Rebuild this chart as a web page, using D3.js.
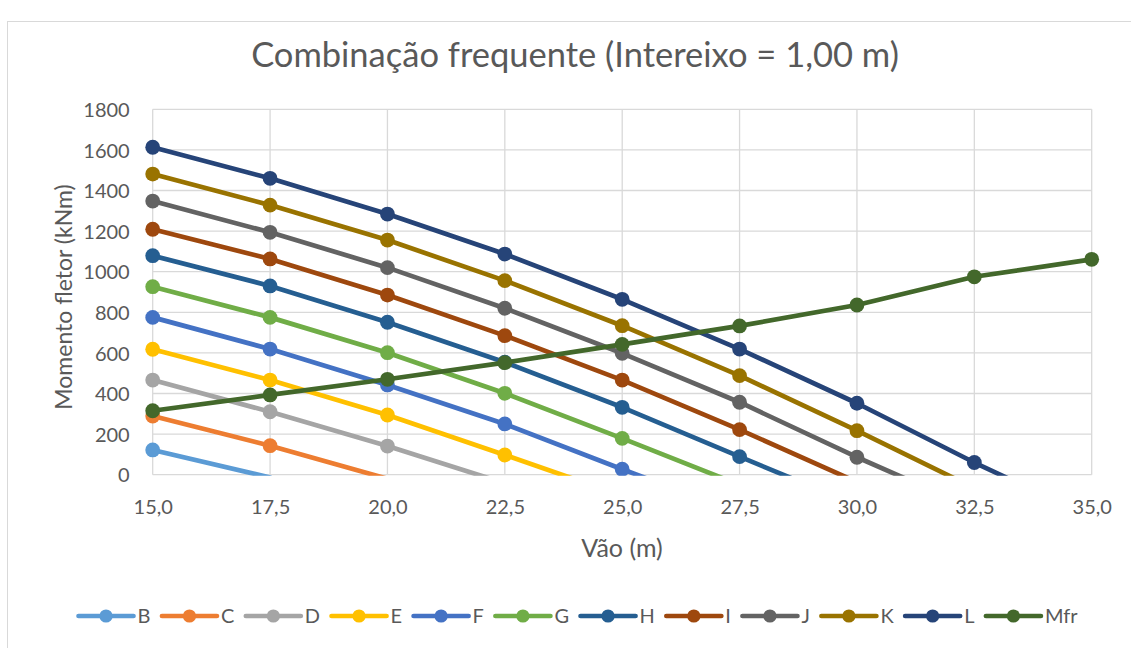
<!DOCTYPE html>
<html>
<head>
<meta charset="utf-8">
<script src="https://cdn.jsdelivr.net/npm/d3@7/dist/d3.min.js"></script>
<style>
  html, body { margin: 0; padding: 0; background: #ffffff; }
  svg { display: block; font-family: Lato, "Open Sans", sans-serif; }
</style>
</head>
<body>
<svg id="chart" width="1131" height="648"></svg>
<script>
// Span (m) of each column of values
const spans = [15.0, 17.5, 20.0, 22.5, 25.0, 27.5, 30.0, 32.5, 35.0];
const yTicks = [0, 200, 400, 600, 800, 1000, 1200, 1400, 1600, 1800];

// Bending moment (kNm) per series; each series stops at its first negative value
const serieB = [122, -14];
const serieC = [289, 143, -20];
const serieD = [466, 310, 141, -42];
const serieE = [618, 466, 294, 97, -103];
const serieF = [775, 619, 442, 250, 27, -190];
const serieG = [926, 775, 601, 401, 179, -50];
const serieH = [1079, 930, 751, 554, 332, 89, -151];
const serieI = [1209, 1063, 885, 685, 466, 222, -36];
const serieJ = [1348, 1194, 1020, 820, 598, 357, 86, -168];
const serieK = [1481, 1328, 1156, 956, 734, 488, 217, -66];
const serieL = [1613, 1460, 1284, 1087, 864, 619, 352, 60, -212];
const serieMfr = [315, 393, 470, 552, 642, 733, 836, 975, 1061];

const seriesNames = ["B", "C", "D", "E", "F", "G", "H", "I", "J", "K", "L", "Mfr"];
const seriesValues = [serieB, serieC, serieD, serieE, serieF, serieG, serieH, serieI, serieJ, serieK, serieL, serieMfr];
const seriesColors = ["#5B9BD5", "#ED7D31", "#A5A5A5", "#FFC000", "#4472C4", "#70AD47",
                      "#255E91", "#9E480E", "#636363", "#997300", "#264478", "#43682B"];

const titleText = "Combinação frequente (Intereixo = 1,00 m)";
const xTitle = "Vão (m)";
const yTitle = "Momento fletor (kNm)";

const svg = d3.select("#chart");
const textColor = "#595959";
const gridColor = "#d9d9d9";

// chart frame
svg.append("rect")
  .attr("x", 7.5).attr("y", 21.5)
  .attr("width", 1140).attr("height", 640)
  .attr("fill", "#ffffff").attr("stroke", gridColor).attr("stroke-width", 1);

const plot = { left: 152.7, right: 1091.7, top: 109.3, bottom: 474.7 };

const x = d3.scaleLinear().domain([15, 35]).range([plot.left, plot.right]);
const y = d3.scaleLinear().domain([0, 1800]).range([plot.bottom, plot.top]);

// gridlines
const grid = svg.append("g");
grid.selectAll("line.h").data(yTicks).join("line")
  .attr("x1", plot.left).attr("x2", plot.right)
  .attr("y1", d => y(d)).attr("y2", d => y(d))
  .attr("stroke", gridColor).attr("stroke-width", 1.3);
grid.selectAll("line.v").data(spans).join("line")
  .attr("y1", plot.top).attr("y2", plot.bottom)
  .attr("x1", d => x(d)).attr("x2", d => x(d))
  .attr("stroke", gridColor).attr("stroke-width", 1.3);

// axes (labels only, Excel-style)
const yAxis = svg.append("g")
  .attr("transform", `translate(${plot.left - 23},0)`)
  .call(d3.axisLeft(y).tickValues(yTicks).tickSize(0).tickPadding(0).tickFormat(d3.format("d")));
yAxis.select(".domain").remove();
yAxis.selectAll("text").attr("fill", textColor).attr("font-size", 20).attr("font-family", "Lato").attr("dy", "0.36em");

const commaFmt = d => d.toFixed(1).replace(".", ",");
const xAxis = svg.append("g")
  .attr("transform", `translate(0,${plot.bottom + 25.5})`)
  .call(d3.axisBottom(x).tickValues(spans).tickSize(0).tickPadding(0).tickFormat(commaFmt));
xAxis.select(".domain").remove();
xAxis.selectAll("text").attr("fill", textColor).attr("font-size", 20).attr("font-family", "Lato").attr("dy", "0.71em");

// titles
svg.append("text")
  .attr("x", 575).attr("y", 67)
  .attr("text-anchor", "middle")
  .attr("fill", textColor).attr("font-size", 34.5)
  .text(titleText);

svg.append("text")
  .attr("x", 622).attr("y", 557)
  .attr("text-anchor", "middle")
  .attr("fill", textColor).attr("font-size", 25)
  .text(xTitle);

svg.append("text")
  .attr("transform", `translate(72,${(plot.top + plot.bottom) / 2 + 5}) rotate(-90)`)
  .attr("text-anchor", "middle")
  .attr("fill", textColor).attr("font-size", 23)
  .text(yTitle);

// clip lines at the plot area
svg.append("clipPath").attr("id", "plotClip")
  .append("rect")
  .attr("x", plot.left - 10).attr("y", plot.top - 10)
  .attr("width", plot.right - plot.left + 20)
  .attr("height", plot.bottom - plot.top + 11);

const line = d3.line().x(d => x(d.x)).y(d => y(d.v));
const seriesLayer = svg.append("g").attr("clip-path", "url(#plotClip)");

seriesNames.forEach((name, i) => {
  const pts = seriesValues[i].map((v, j) => ({ x: spans[j], v }));
  const g = seriesLayer.append("g");
  g.append("path")
    .datum(pts)
    .attr("d", line)
    .attr("fill", "none")
    .attr("stroke", seriesColors[i])
    .attr("stroke-width", 4.7)
    .attr("stroke-linejoin", "round")
    .attr("stroke-linecap", "round");
  g.selectAll("circle").data(pts.filter(p => p.v >= 0)).join("circle")
    .attr("cx", d => x(d.x)).attr("cy", d => y(d.v))
    .attr("r", 7.4)
    .attr("fill", seriesColors[i]);
});

// legend
const legend = svg.append("g");
const legY = 616;
const lineLen = 55;
const itemGap = 11.5;
let cursor = 0;
const items = [];
seriesNames.forEach((name, i) => {
  const g = legend.append("g");
  g.append("line")
    .attr("x1", 0).attr("x2", lineLen).attr("y1", 0).attr("y2", 0)
    .attr("stroke", seriesColors[i]).attr("stroke-width", 4.7).attr("stroke-linecap", "round");
  g.append("circle").attr("cx", lineLen / 2).attr("cy", 0).attr("r", 6.6).attr("fill", seriesColors[i]);
  const t = g.append("text")
    .attr("x", lineLen + 4).attr("y", 0).attr("dy", "0.36em")
    .attr("fill", textColor).attr("font-size", 20)
    .text(name);
  const w = t.node().getComputedTextLength();
  items.push({ g, offset: cursor });
  cursor += lineLen + 4 + w + itemGap;
});
const total = cursor - itemGap;
const startX = 578 - total / 2;
items.forEach(it => it.g.attr("transform", `translate(${startX + it.offset},${legY})`));
</script>
</body>
</html>
